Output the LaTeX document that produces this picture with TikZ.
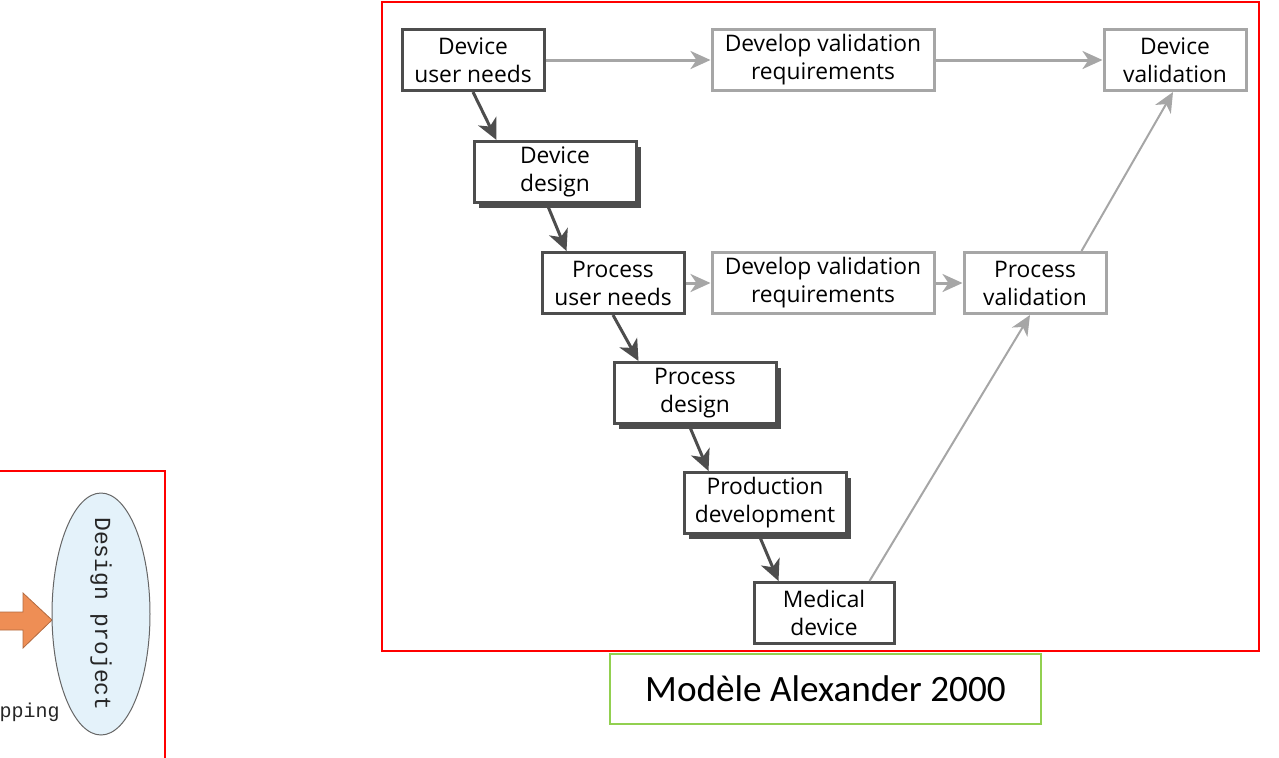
\documentclass[tikz,border=0pt]{standalone}
\usepackage{fontspec}
\setmainfont{Open Sans}
\newfontfamily\capfont{Carlito}
\newfontfamily\fragfont{Liberation Mono}
\usepackage{xcolor}
\usetikzlibrary{positioning,arrows.meta,shadows,calc,shapes.geometric}
\definecolor{boxdark}{HTML}{4D4D4D}
\definecolor{boxgray}{HTML}{A6A6A6}
\definecolor{framered}{HTML}{FF0000}
\definecolor{capgreen}{HTML}{92D050}
\definecolor{ellblue}{HTML}{E4F2FA}
\definecolor{arrorange}{HTML}{EE8E55}

\begin{document}
\begin{tikzpicture}[x=0.5pt, y=-0.5pt, >=Stealth,
    stepdark/.style={draw=boxdark, line width=1.5pt, fill=white, minimum width=71pt, minimum height=30.5pt,
        inner sep=0pt, align=center, font=\fontsize{11.4}{14}\selectfont},
    stepshadow/.style={stepdark, minimum width=81pt,
        drop shadow={shadow xshift=2.6pt, shadow yshift=-2.6pt, fill=boxdark, opacity=1}},
    stepgray/.style={stepdark, draw=boxgray},
    darrow/.style={->, draw=boxdark, line width=1.5pt, arrows={-Stealth[length=10.5pt, width=10pt, inset=3pt]}},
    garrow/.style={->, draw=boxgray, line width=1.5pt, arrows={-Stealth[length=10pt, width=9pt, inset=3pt]}}]
    \useasboundingbox (0,0) rectangle (1279,757);

    % Left fragment of the neighbouring figure
    \begin{scope}
        \clip (0,0) rectangle (1279,757);
        \draw[framered, line width=0.8pt] (-20,471) rectangle (165,790);
        \fill[arrorange, draw=arrorange!75!black, line width=0.4pt]
            (-20,612) -- (23,612) -- (23,593) -- (52,620) -- (23,648) -- (23,630) -- (-20,630) -- cycle;
        \node[ellipse, draw=black!60, fill=ellblue, line width=0.5pt, minimum width=49pt, minimum height=121pt,
            inner sep=0pt] (EP) at (101,614) {};
        \node[rotate=-90, font=\fragfont\fontsize{11.5}{12}\selectfont, text=black!85] at (EP.center) {Design project};
        \node[anchor=base east, inner sep=0pt, font=\fragfont\fontsize{10}{12}\selectfont, text=black!85] (MP) at (60,717) {pping};
    \end{scope}

    % Frame
    \draw[framered, line width=0.8pt] (382,2) rectangle (1259,651);

    % Device level
    \node[stepdark] (DUN) at (473,60) {Device\\user needs};
    \node[stepgray, minimum width=111pt] (DVR) at (823,60) {Develop validation\\requirements};
    \node[stepgray] (DV) at (1175,60) {Device\\validation};
    \node[stepshadow] (DD) at (555,172) {Device\\design};

    % Process level
    \node[stepdark] (PUN) at (613,283) {Process\\user needs};
    \node[stepgray, minimum width=111pt] (PVR) at (823,283) {Develop validation\\requirements};
    \node[stepgray] (PV) at (1035,283) {Process\\validation};
    \node[stepshadow] (PD) at (695,393) {Process\\design};
    \node[stepshadow] (PDEV) at (765,503) {Production\\development};
    \node[stepdark, minimum width=70pt] (MD) at (824,613) {Medical\\device};

    % Descending branch
    \draw[darrow] (DUN.south) -- ([xshift=12pt]DD.north west);
    \draw[darrow] ([xshift=-4pt]DD.south) -- ([xshift=13pt]PUN.north west);
    \draw[darrow] (PUN.south) -- ([xshift=13pt]PD.north west);
    \draw[darrow] ([xshift=-3pt]PD.south) -- ([xshift=13pt]PDEV.north west);
    \draw[darrow] ([xshift=-3pt]PDEV.south) -- ([xshift=13pt]MD.north west);

    % Validation branch
    \draw[garrow] (DUN.east) -- (DVR.west);
    \draw[garrow] (DVR.east) -- (DV.west);
    \draw[garrow] (PUN.east) -- (PVR.west);
    \draw[garrow] (PVR.east) -- (PV.west);
    \draw[garrow, line width=1pt] ([xshift=-13pt]MD.north east) -- ([xshift=-2.5pt]PV.south);
    \draw[garrow, line width=1pt] ([xshift=-13pt]PV.north east) -- ([xshift=-1pt]DV.south);

    % Caption
    \node[draw=capgreen, line width=0.6pt, minimum width=215.5pt, minimum height=35pt,
        font=\capfont\fontsize{18.6}{22}\selectfont] (CAP) at (825.5,689) {Modèle Alexander 2000};
\end{tikzpicture}
\end{document}
